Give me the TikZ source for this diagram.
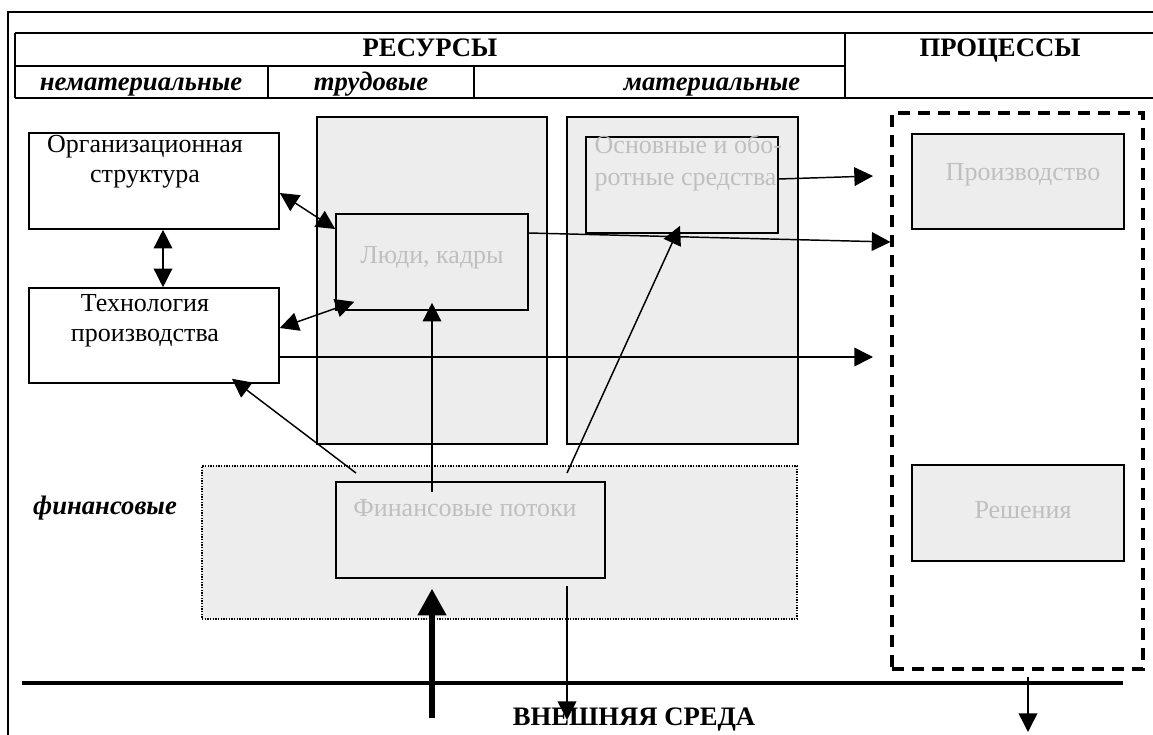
\documentclass[tikz,border=0pt]{standalone}
\usepackage{fontspec}
\setmainfont{Liberation Serif}
\usetikzlibrary{arrows.meta,fit,calc}
\begin{document}
\begin{tikzpicture}[x=0.75pt,y=-0.75pt,
  frm/.style={line width=1.5pt},
  box/.style={draw, line width=1.2pt, inner sep=0pt},
  shade/.style={fill=gray!14},
  ghost/.style={text=gray!50, font=\fontsize{19.5}{24.5}\selectfont},
  body/.style={font=\fontsize{19.5}{22.5}\selectfont, align=center},
  head/.style={font=\fontsize{20}{24}\selectfont\bfseries},
  sub/.style={font=\fontsize{20}{24}\selectfont\bfseries\itshape},
  arr/.style={-{Triangle[length=14pt,width=14pt]}, line width=1.1pt},
  darr/.style={{Triangle[length=14pt,width=14pt]}-{Triangle[length=14pt,width=14pt]}, line width=1.1pt},
]
\useasboundingbox (0,0) rectangle (1153,735);

% outer frame and header table
\draw[frm] (8,735) -- (8,12) -- (1153,12);
\draw[frm] (15,33) -- (1153,33);
\draw[frm] (15,66) -- (845,66);
\draw[frm] (15,98) -- (1153,98);
\draw[frm] (15,33) -- (15,98);
\draw[frm] (268,66) -- (268,98);
\draw[frm] (474,66) -- (474,98);
\draw[frm] (845,33) -- (845,98);

\node[head, anchor=base] (res) at (430,57) {РЕСУРСЫ};
\node[head, anchor=base] (pro) at (1000,57) {ПРОЦЕССЫ};
\node[sub, anchor=base] (nemat) at (141,90) {нематериальные};
\node[sub, anchor=base] (trud) at (371,90) {трудовые};
\node[sub, anchor=base] (mat) at (712,90) {материальные};

% shaded areas
\node[box, shade, fit={(317,117) (547,444)}] (labcol) {};
\node[box, shade, fit={(567,117) (798,444)}] (matcol) {};
\node[draw, dash pattern=on 1pt off 1pt, line width=0.9pt, shade, inner sep=0pt, fit={(202,466) (797,619)}] (finarea) {};

% boxes
\node[box, fit={(29,133) (279,229)}] (org) {};
\node[box, fit={(29,288) (279,383)}] (tech) {};
\node[box, shade, fit={(336,214) (528,310)}] (people) {};
\node[box, shade, fit={(586,137) (778,233)}] (assets) {};
\node[box, shade, fit={(336,482) (605,578)}] (finflow) {};
\node[draw, line width=2.3pt, dash pattern=on 9pt off 6pt, inner sep=0pt, fit={(892,113) (1143,669)}] (proc) {};
\node[box, shade, fit={(912,134) (1124,229)}] (prod) {};
\node[box, shade, fit={(912,465) (1124,561)}] (dec) {};

% texts
\node[body] (orgt) at (145,162) {Организационная\\структура};
\node[body] (techt) at (145,321) {Технология\\производства};
\node[ghost] (peoplet) at (432,258) {Люди, кадры};
\node[ghost, align=left, anchor=west] (assetst) at (590,163) {Основные и обо-\\ротные средства};
\node[ghost] (prodt) at (1023,175) {Производство};
\node[ghost] (dect) at (1023,510) {Решения};
\node[ghost] (fint) at (465,508) {Финансовые потоки};
\node[sub] (fins) at (105,508) {финансовые};
\node[head] (env) at (634,720) {ВНЕШНЯЯ СРЕДА};

% free ends
\coordinate (pin1) at (873,176);
\coordinate (pin2) at (873,357);
\coordinate (f1) at (356,473);
\coordinate (f2) at (432,492);
\coordinate (f3) at (567,473);
\coordinate (f4) at (567,586);
\coordinate (e1) at (432,718);
\coordinate (e2) at (567,720);
\coordinate (e3) at (1028,732);
\coordinate (g1) at (22,683);
\coordinate (g2) at (1123,683);

% ground line
\draw[line width=2.3pt] (g1) -- (g2);

% connectors
\draw[darr] (org.east |- 0,193) -- (people.west |- 0,229);
\draw[darr] (org.south -| 163,0) -- (tech.north -| 163,0);
\draw[darr] (tech.east |- 0,328) -- ($(people.south west)+(19,-9)$);
\draw[arr] (assets.east |- 0,179) -- (pin1);
\draw[arr] (people.east |- 0,233) -- (proc.west |- 0,242);
\draw[arr] (tech.east |- 0,357) -- (pin2);
\draw[arr] (f1) -- ($(tech.south -| 232,0)+(0,-5)$);
\draw[arr] (f2) -- ($(people.south)+(0,-8)$);
\draw[arr] (f3) -- ($(assets.south -| 680,0)+(0,-8)$);
\draw[-{Triangle[length=20pt,width=21pt]}, line width=3.8pt] (e1) -- ($(finflow.south -| 432,0)+(0,10)$);
\draw[arr] (f4) -- (e2);
\draw[arr] ($(proc.south -| 1028,0)+(0,6)$) -- (e3);
\end{tikzpicture}
\end{document}
